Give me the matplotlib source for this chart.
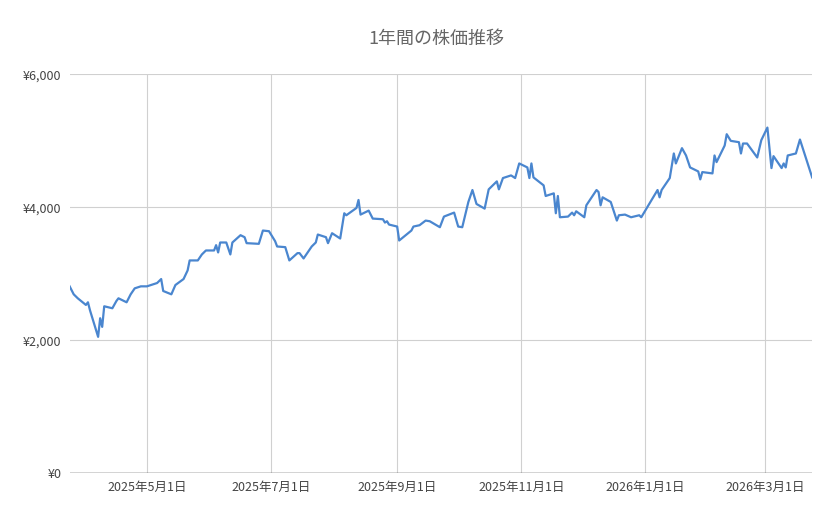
import matplotlib
matplotlib.use("Agg")
import matplotlib.pyplot as plt
import matplotlib.dates as mdates
import pandas as pd

plt.rcParams['font.family'] = ['Noto Sans CJK JP', 'DejaVu Sans']

dates = ["2025-03-24","2025-03-26","2025-03-28","2025-04-01","2025-04-02","2025-04-03","2025-04-07","2025-04-08","2025-04-09","2025-04-10",
"2025-04-14","2025-04-16","2025-04-17","2025-04-21","2025-04-23","2025-04-25","2025-04-28","2025-05-01","2025-05-06","2025-05-08",
"2025-05-09","2025-05-13","2025-05-15","2025-05-19","2025-05-21","2025-05-22","2025-05-26","2025-05-28","2025-05-30","2025-06-03",
"2025-06-04","2025-06-05","2025-06-06","2025-06-09","2025-06-11","2025-06-12","2025-06-16","2025-06-18","2025-06-19","2025-06-25",
"2025-06-27","2025-06-30","2025-07-03","2025-07-04","2025-07-08","2025-07-10","2025-07-14","2025-07-15","2025-07-17","2025-07-21",
"2025-07-23","2025-07-24","2025-07-28","2025-07-29","2025-07-31","2025-08-04","2025-08-06","2025-08-07","2025-08-12","2025-08-13",
"2025-08-14","2025-08-18","2025-08-20","2025-08-25","2025-08-26","2025-08-27","2025-08-28","2025-09-01","2025-09-02","2025-09-08",
"2025-09-09","2025-09-12","2025-09-15","2025-09-17","2025-09-22","2025-09-24","2025-09-29","2025-10-01","2025-10-03","2025-10-06",
"2025-10-08","2025-10-10","2025-10-14","2025-10-16","2025-10-20","2025-10-21","2025-10-23","2025-10-27","2025-10-29","2025-10-31",
"2025-11-04","2025-11-05","2025-11-06","2025-11-07","2025-11-12","2025-11-13","2025-11-17","2025-11-18","2025-11-19","2025-11-20",
"2025-11-24","2025-11-26","2025-11-27","2025-11-28","2025-12-02","2025-12-03","2025-12-08","2025-12-09","2025-12-10","2025-12-11",
"2025-12-15","2025-12-18","2025-12-19","2025-12-22","2025-12-25","2025-12-29","2025-12-30","2026-01-07","2026-01-08","2026-01-09",
"2026-01-13","2026-01-15","2026-01-16","2026-01-19","2026-01-21","2026-01-23","2026-01-27","2026-01-28","2026-01-29","2026-02-03",
"2026-02-04","2026-02-05","2026-02-09","2026-02-10","2026-02-12","2026-02-16","2026-02-17","2026-02-18","2026-02-20","2026-02-25",
"2026-02-27","2026-03-02","2026-03-04","2026-03-05","2026-03-09","2026-03-10","2026-03-11","2026-03-12","2026-03-16","2026-03-18",
"2026-03-24"]
prices = [2810,2690,2630,2530,2570,2450,2050,2330,2200,2510,
2480,2590,2630,2570,2690,2780,2810,2810,2860,2920,
2740,2690,2830,2920,3050,3200,3200,3290,3350,3350,
3430,3320,3470,3470,3290,3470,3580,3550,3460,3450,
3650,3640,3490,3410,3400,3200,3310,3310,3230,3410,
3470,3590,3550,3460,3610,3530,3910,3880,3990,4110,
3890,3950,3830,3820,3770,3790,3740,3710,3500,3650,
3710,3730,3800,3790,3700,3860,3920,3710,3700,4080,
4260,4050,3980,4270,4390,4270,4440,4480,4440,4660,
4600,4440,4660,4450,4330,4170,4210,3910,4170,3850,
3860,3920,3880,3940,3850,4030,4260,4230,4030,4150,
4080,3800,3880,3890,3850,3880,3850,4260,4150,4260,
4440,4810,4660,4890,4780,4600,4540,4420,4530,4510,
4780,4680,4930,5100,5000,4980,4810,4960,4960,4750,
5010,5200,4590,4770,4590,4660,4600,4780,4810,5020,
4450]
tick_dates = ["2025-05-01","2025-07-01","2025-09-01","2025-11-01","2026-01-01","2026-03-01"]
yticks = [0, 2000, 4000, 6000]

d = pd.to_datetime(dates)
fig = plt.figure(figsize=(8.39, 5.19), dpi=100)
ax = fig.add_axes([0.083, 0.0886, 0.885, 0.768])
ax.plot(d, prices, color="#4a86cf", lw=1.6, zorder=3)
ax.set_xlim(pd.Timestamp("2025-03-24"), pd.Timestamp("2026-03-24"))
ax.set_ylim(0, 6000)
ax.set_yticks(yticks)
ax.set_yticklabels([f"¥{v:,}" for v in yticks])
td = pd.to_datetime(tick_dates)
ax.set_xticks(td)
ax.set_xticklabels([f"{t.year}年{t.month}月{t.day}日" for t in td])
ax.grid(True, color="#d0d0d0", lw=0.8)
for s in ax.spines.values():
    s.set_visible(False)
ax.axhline(0, color="#333333", lw=1, zorder=2)
ax.tick_params(length=0, labelsize=9, colors="#444444", pad=6)
fig.text(0.52, 0.925, "1年間の株価推移", ha="center", va="center", fontsize=13, color="#666666")
fig.savefig("out.png", dpi=100, facecolor="white")
